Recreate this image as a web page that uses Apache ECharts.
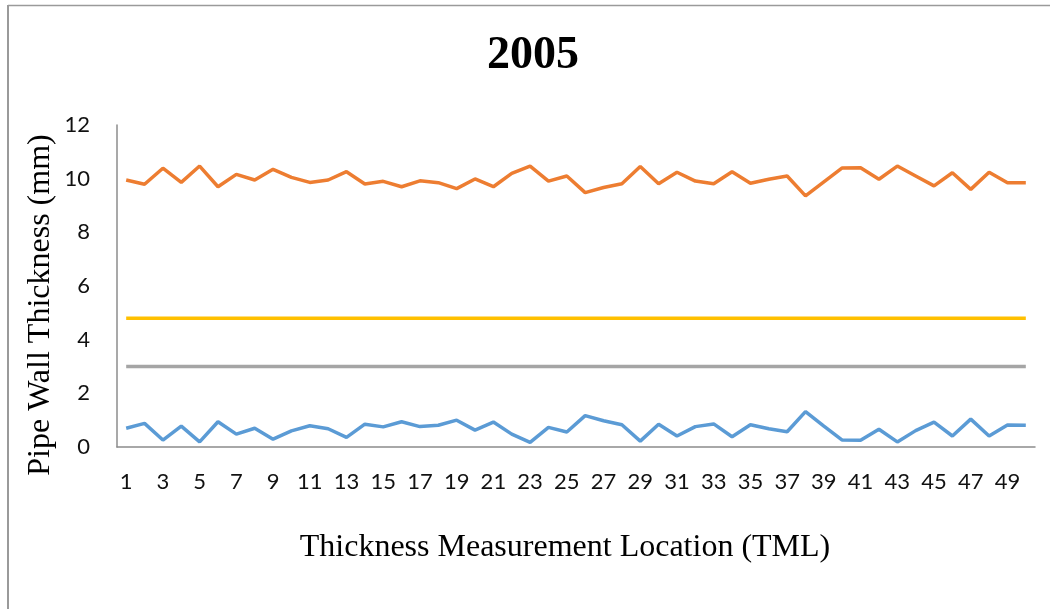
<!DOCTYPE html>
<html>
<head>
<meta charset="utf-8">
<script src="https://cdn.jsdelivr.net/npm/echarts@6/dist/echarts.min.js"></script>
<style>
html,body{margin:0;padding:0;background:#fff;}
#chart{width:1050px;height:609px;}
</style>
</head>
<body>
<div id="chart"></div>
<script>
var categories = ['1','2','3','4','5','6','7','8','9','10','11','12','13','14','15','16','17','18','19','20','21','22','23','24','25','26','27','28','29','30','31','32','33','34','35','36','37','38','39','40','41','42','43','44','45','46','47','48','49','50'];

var seriesOrange = [9.95,9.79,10.39,9.86,10.47,9.70,10.16,9.95,10.35,10.05,9.86,9.95,10.26,9.80,9.90,9.70,9.92,9.85,9.63,9.99,9.70,10.20,10.47,9.91,10.10,9.48,9.67,9.81,10.45,9.81,10.24,9.91,9.81,10.26,9.83,9.98,10.10,9.36,9.88,10.40,10.41,9.98,10.47,10.10,9.73,10.22,9.60,10.24,9.85,9.85];

var seriesBlue = [0.70,0.88,0.26,0.78,0.19,0.94,0.48,0.70,0.29,0.60,0.79,0.68,0.36,0.85,0.75,0.94,0.76,0.81,1.00,0.63,0.93,0.48,0.17,0.73,0.56,1.17,0.98,0.83,0.22,0.85,0.41,0.76,0.86,0.38,0.83,0.68,0.57,1.32,0.78,0.26,0.25,0.66,0.19,0.61,0.93,0.41,1.04,0.41,0.82,0.81];

var seriesYellow = [4.8,4.8,4.8,4.8,4.8,4.8,4.8,4.8,4.8,4.8,4.8,4.8,4.8,4.8,4.8,4.8,4.8,4.8,4.8,4.8,4.8,4.8,4.8,4.8,4.8,4.8,4.8,4.8,4.8,4.8,4.8,4.8,4.8,4.8,4.8,4.8,4.8,4.8,4.8,4.8,4.8,4.8,4.8,4.8,4.8,4.8,4.8,4.8,4.8,4.8];

var seriesGray = [3.0,3.0,3.0,3.0,3.0,3.0,3.0,3.0,3.0,3.0,3.0,3.0,3.0,3.0,3.0,3.0,3.0,3.0,3.0,3.0,3.0,3.0,3.0,3.0,3.0,3.0,3.0,3.0,3.0,3.0,3.0,3.0,3.0,3.0,3.0,3.0,3.0,3.0,3.0,3.0,3.0,3.0,3.0,3.0,3.0,3.0,3.0,3.0,3.0,3.0];

var titleText = '2005';
var xAxisTitle = 'Thickness Measurement Location (TML)';
var yAxisTitle = 'Pipe Wall Thickness (mm)';

var chart = echarts.init(document.getElementById('chart'), null, {renderer: 'canvas'});

function lineSeries(name, data, color) {
  return {
    name: name,
    type: 'line',
    data: data,
    symbol: 'none',
    smooth: false,
    lineStyle: {color: color, width: 3.5},
    itemStyle: {color: color},
    emphasis: {disabled: true},
    z: 3
  };
}

chart.setOption({
  animation: false,
  backgroundColor: '#ffffff',
  grid: {left: 117, top: 125, right: 15, bottom: 162, containLabel: false},
  xAxis: {
    type: 'category',
    data: categories,
    boundaryGap: true,
    axisLine: {show: true, lineStyle: {color: '#8c8c8c', width: 1.5}},
    axisTick: {show: false},
    splitLine: {show: false},
    axisLabel: {
      interval: 1,
      margin: 24,
      color: '#111',
      fontFamily: 'Lato',
      fontSize: 22
    }
  },
  yAxis: {
    type: 'value',
    min: 0,
    max: 12,
    interval: 2,
    axisLine: {show: true, lineStyle: {color: '#8c8c8c', width: 1.5}},
    axisTick: {show: false},
    splitLine: {show: false},
    axisLabel: {
      margin: 27,
      color: '#111',
      fontFamily: 'Lato',
      fontSize: 22
    }
  },
  series: [
    lineSeries('Gray', seriesGray, '#A5A5A5'),
    lineSeries('Yellow', seriesYellow, '#FFC000'),
    lineSeries('Blue', seriesBlue, '#5B9BD5'),
    lineSeries('Orange', seriesOrange, '#ED7D31')
  ],
  graphic: [
    {type: 'line', shape: {x1: 8, y1: 5.5, x2: 1050, y2: 5.5}, style: {stroke: '#9a9a9a', lineWidth: 1.5}, silent: true},
    {type: 'line', shape: {x1: 8, y1: 5, x2: 8, y2: 609}, style: {stroke: '#9a9a9a', lineWidth: 2}, silent: true},
    {type: 'text', x: 533, y: 56, style: {text: titleText, fill: '#000', font: 'bold 46px "Liberation Serif", "Times New Roman", serif', textAlign: 'center', textVerticalAlign: 'middle'}, silent: true},
    {type: 'text', x: 565, y: 548, style: {text: xAxisTitle, fill: '#000', font: '32px "Liberation Serif", "Times New Roman", serif', textAlign: 'center', textVerticalAlign: 'middle'}, silent: true},
    {type: 'text', x: 41, y: 305, rotation: Math.PI / 2, style: {text: yAxisTitle, fill: '#000', font: '32px "Liberation Serif", "Times New Roman", serif', textAlign: 'center', textVerticalAlign: 'middle'}, silent: true}
  ]
});
</script>
</body>
</html>
